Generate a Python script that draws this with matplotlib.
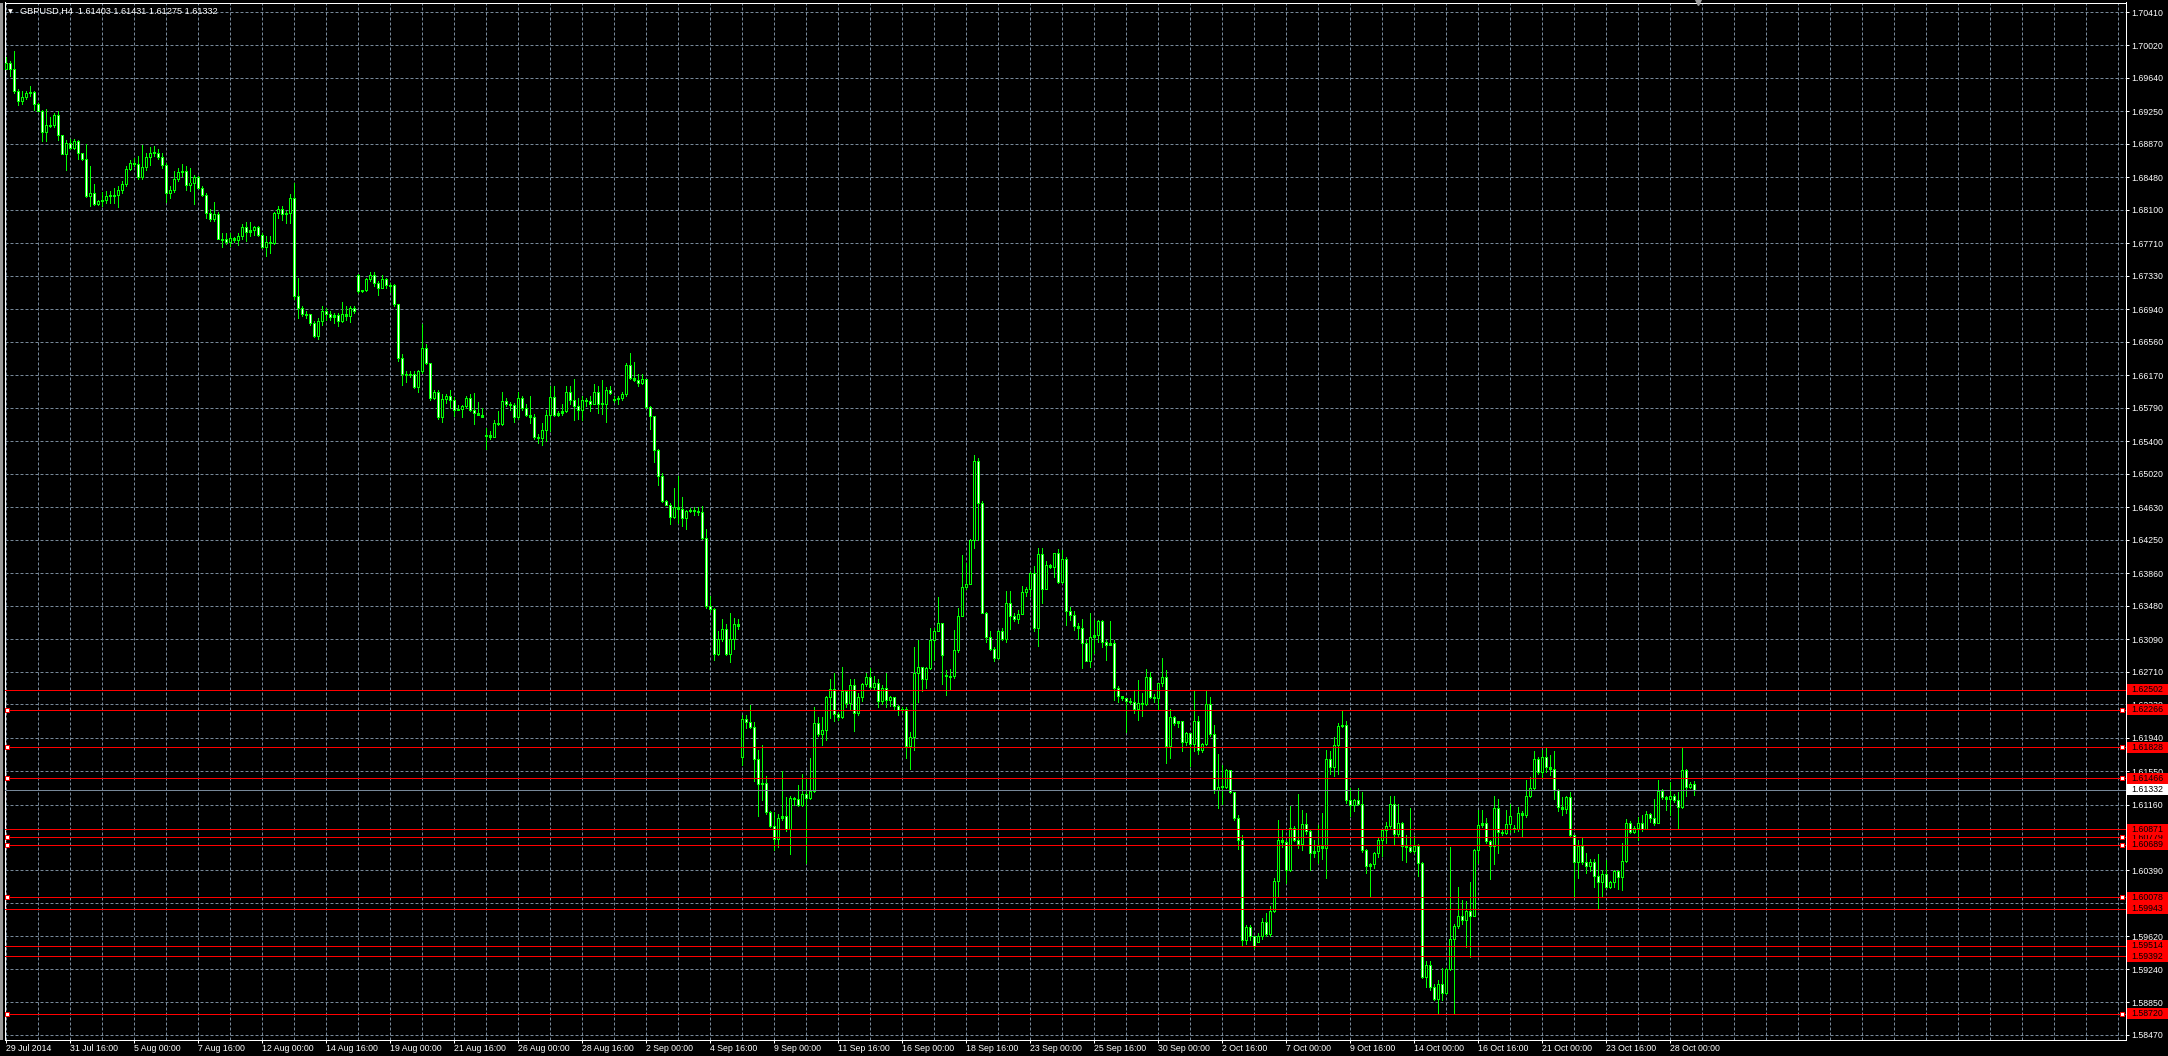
import numpy as np
import matplotlib
matplotlib.use("Agg")
import matplotlib.pyplot as plt
from matplotlib.collections import LineCollection
from matplotlib.patches import Rectangle
import matplotlib.transforms as mtransforms

# ---------------- data (prices in pips, i.e. units of 0.0001) ----------------
symbol = "GBPUSD"
timeframe = "H4"

bar_open = [
    16975,16981,16975,16949,16937,16942,16946,16948,16934,16926,
    16901,16909,16909,16921,16898,16875,16888,16882,16891,16876,
    16870,16826,16830,16817,16820,16822,16826,16827,16827,16833,
    16840,16858,16865,16864,16849,16860,16872,16877,16876,16872,
    16862,16830,16833,16846,16854,16855,16839,16842,16848,16836,
    16827,16806,16799,16805,16776,16776,16772,16777,16775,16780,
    16790,16784,16786,16790,16781,16767,16772,16771,16806,16811,
    16805,16806,16824,16709,16695,16689,16688,16678,16663,16680,
    16692,16689,16685,16687,16680,16689,16686,16696,16734,16715,
    16716,16729,16734,16725,16719,16729,16722,16722,16700,16637,
    16619,16617,16618,16603,16622,16649,16631,16590,16598,16568,
    16589,16593,16588,16576,16578,16581,16590,16576,16573,16571,
    16547,16547,16545,16561,16560,16587,16584,16582,16568,16590,
    16579,16571,16568,16545,16544,16553,16571,16592,16571,16573,
    16575,16597,16588,16581,16577,16588,16587,16583,16598,16584,
    16584,16600,16589,16589,16590,16595,16629,16614,16611,16608,
    16613,16580,16569,16530,16500,16470,16466,16452,16463,16461,
    16450,16459,16459,16459,16457,16427,16348,16344,16292,16309,
    16321,16292,16309,16327,16172,16216,16212,16207,16169,16140,
    16141,16107,16091,16076,16100,16103,16088,16124,16123,16116,
    16128,16124,16132,16211,16198,16203,16241,16251,16222,16218,
    16249,16234,16256,16223,16242,16257,16265,16253,16258,16237,
    16252,16238,16241,16231,16226,16228,16184,16195,16270,16276,
    16263,16275,16308,16319,16328,16267,16266,16266,16296,16336,
    16370,16373,16425,16517,16468,16340,16311,16298,16287,16319,
    16309,16351,16336,16332,16338,16364,16368,16386,16322,16408,
    16367,16396,16393,16409,16376,16403,16342,16337,16324,16322,
    16304,16284,16311,16314,16330,16306,16302,16304,16252,16243,
    16240,16237,16236,16227,16234,16233,16265,16242,16240,16258,
    16265,16184,16218,16211,16213,16189,16200,16187,16213,16180,
    16187,16233,16198,16133,16137,16136,16156,16131,16100,16075,
    15958,15973,15962,15956,15962,15979,15965,15992,16027,16075,
    16072,16040,16089,16075,16070,16093,16085,16059,16062,16068,
    16065,16169,16160,16186,16208,16209,16121,16116,16121,16117,
    16063,16044,16047,16059,16075,16086,16091,16117,16082,16094,
    16068,16067,16062,16068,16048,15915,15929,15903,15889,15907,
    15896,15924,15959,15974,15986,15981,15992,15986,16063,16092,
    16095,16073,16068,16112,16084,16083,16093,16089,16087,16106,
    16104,16126,16135,16169,16154,16171,16160,16157,16133,16113,
    16111,16125,16080,16049,16068,16049,16044,16049,16032,16026,
    16035,16020,16025,16038,16031,16050,16095,16084,16089,16094,
    16088,16105,16100,16095,16132,16125,16122,16126,16121,16113,
    16156,16137,16140.3,
]

bar_high = [
    16988,16984,16995,16951,16949,16949,16955,16949,16935,16927,
    16928,16918,16923,16925,16898,16892,16893,16893,16892,16876,
    16887,16861,16840,16822,16831,16832,16832,16836,16838,16844,
    16861,16868,16871,16873,16886,16876,16883,16885,16881,16876,
    16865,16838,16855,16859,16864,16861,16859,16851,16850,16838,
    16830,16811,16819,16807,16783,16783,16783,16778,16783,16794,
    16796,16796,16791,16791,16783,16779,16779,16807,16814,16814,
    16809,16828,16842,16731,16698,16692,16688,16680,16684,16698,
    16696,16692,16690,16690,16702,16698,16698,16698,16735,16717,
    16731,16737,16737,16727,16734,16730,16725,16723,16700,16642,
    16622,16622,16622,16623,16677,16653,16631,16600,16600,16595,
    16595,16600,16592,16582,16582,16593,16595,16596,16586,16579,
    16555,16552,16565,16575,16597,16591,16586,16585,16597,16593,
    16584,16593,16572,16549,16561,16577,16605,16604,16575,16584,
    16604,16604,16613,16590,16593,16591,16593,16607,16605,16612,
    16603,16604,16593,16593,16597,16631,16643,16633,16618,16618,
    16613,16581,16570,16531,16503,16472,16468,16485,16500,16475,
    16460,16462,16463,16463,16465,16438,16359,16345,16318,16332,
    16327,16339,16334,16332,16221,16220,16232,16212,16180,16185,
    16149,16108,16107,16105,16155,16125,16126,16125,16139,16152,
    16146,16170,16230,16218,16218,16243,16263,16269,16224,16277,
    16250,16263,16263,16246,16258,16270,16275,16266,16263,16255,
    16269,16243,16242,16232,16230,16230,16201,16300,16308,16277,
    16277,16322,16322,16358,16328,16273,16274,16320,16345,16407,
    16398,16426,16524,16520,16470,16341,16319,16300,16320,16322,
    16365,16365,16339,16343,16371,16370,16388,16394,16415,16415,
    16400,16397,16410,16414,16413,16405,16346,16342,16328,16333,
    16308,16340,16331,16331,16331,16308,16330,16308,16254,16243,
    16240,16240,16250,16261,16246,16274,16271,16245,16258,16287,
    16273,16228,16219,16213,16213,16201,16200,16250,16219,16188,
    16248,16242,16209,16175,16162,16158,16156,16131,16104,16081,
    15975,15975,15962,15966,15983,15989,15997,16030,16098,16086,
    16075,16114,16091,16128,16110,16106,16087,16075,16092,16106,
    16180,16178,16195,16211,16226,16213,16135,16123,16135,16131,
    16064,16048,16061,16077,16087,16096,16126,16126,16117,16096,
    16080,16112,16079,16070,16049,15933,15933,15907,15911,15925,
    15925,16067,15977,16020,16004,16003,16026,16064,16110,16110,
    16100,16075,16126,16123,16088,16110,16117,16092,16113,16108,
    16145,16148,16179,16172,16180,16182,16174,16178,16134,16125,
    16126,16131,16080,16075,16077,16059,16053,16052,16058,16040,
    16051,16027,16040,16040,16071,16099,16097,16091,16102,16104,
    16108,16106,16123,16145,16134,16126,16142,16128,16131,16182,
    16157,16142,16143.1,
]

bar_low = [
    16974,16966,16947,16932,16934,16939,16943,16927,16925,16890,
    16890,16907,16907,16892,16875,16857,16881,16881,16870,16868,
    16825,16814,16816,16816,16814,16818,16818,16818,16813,16830,
    16838,16857,16861,16846,16846,16857,16863,16873,16870,16859,
    16819,16824,16831,16844,16850,16833,16832,16817,16835,16826,
    16801,16797,16797,16776,16767,16770,16768,16772,16769,16776,
    16774,16779,16781,16779,16766,16756,16760,16770,16801,16798,
    16795,16795,16706,16684,16686,16684,16676,16662,16659,16676,
    16682,16682,16678,16674,16679,16682,16679,16690,16713,16714,
    16715,16727,16721,16711,16719,16719,16714,16698,16634,16606,
    16609,16615,16602,16597,16620,16630,16588,16589,16566,16562,
    16585,16579,16569,16576,16568,16579,16575,16560,16571,16568,
    16531,16543,16545,16559,16559,16581,16577,16563,16566,16577,
    16569,16561,16543,16538,16536,16540,16552,16570,16570,16571,
    16574,16584,16565,16566,16565,16581,16575,16583,16573,16572,
    16562,16595,16586,16584,16588,16593,16613,16610,16605,16607,
    16579,16554,16516,16489,16469,16466,16443,16450,16445,16441,
    16438,16457,16454,16454,16426,16345,16341,16285,16290,16307,
    16291,16282,16298,16321,16162,16205,16205,16143,16103,16121,
    16105,16090,16063,16066,16098,16085,16058,16116,16114,16114,
    16048,16123,16131,16196,16185,16191,16217,16213,16215,16217,
    16230,16228,16202,16220,16237,16254,16252,16251,16230,16233,
    16230,16231,16226,16220,16224,16170,16158,16180,16236,16248,
    16252,16274,16285,16319,16257,16244,16250,16264,16294,16336,
    16368,16373,16415,16425,16339,16306,16296,16283,16286,16308,
    16306,16321,16330,16328,16338,16359,16359,16318,16301,16351,
    16367,16392,16382,16374,16374,16326,16331,16320,16309,16275,
    16283,16277,16293,16306,16300,16285,16302,16238,16236,16238,
    16201,16233,16223,16215,16219,16232,16240,16236,16226,16254,
    16165,16170,16209,16207,16178,16186,16161,16178,16175,16177,
    16186,16196,16129,16112,16117,16135,16129,16098,16064,15952,
    15953,15958,15949,15955,15959,15962,15963,15990,16009,16067,
    16024,16038,16073,16065,16063,16082,16040,16055,16048,16053,
    16030,16152,16149,16152,16207,16118,16103,16109,16116,16061,
    16036,16009,16042,16055,16056,16071,16089,16069,16079,16051,
    16049,16061,16059,16032,15914,15903,15899,15888,15873,15888,
    15895,15923,15873,15972,15977,15950,15938,15986,16048,16090,
    16071,16029,16047,16059,16080,16082,16084,16084,16085,16079,
    16102,16125,16134,16152,16148,16154,16150,16123,16108,16104,
    16106,16079,16009,16030,16047,16036,16038,16020,15995,16009,
    16019,16019,16020,16017,16016,16049,16083,16083,16075,16085,
    16087,16096,16092,16094,16123,16110,16104,16119,16087,16112,
    16126,16135,16127.5,
]

bar_close = [
    16981,16975,16949,16937,16942,16946,16948,16934,16926,16901,
    16909,16909,16921,16898,16875,16888,16882,16891,16876,16870,
    16826,16830,16817,16820,16822,16826,16827,16827,16833,16840,
    16858,16865,16864,16849,16860,16872,16877,16876,16872,16862,
    16830,16833,16846,16854,16855,16839,16842,16848,16836,16827,
    16806,16799,16805,16776,16776,16772,16777,16775,16780,16790,
    16784,16786,16790,16781,16767,16772,16771,16806,16811,16805,
    16806,16824,16709,16695,16689,16688,16678,16663,16680,16692,
    16689,16685,16687,16680,16689,16686,16696,16692,16715,16716,
    16729,16734,16725,16719,16729,16722,16722,16700,16637,16619,
    16617,16618,16603,16622,16649,16631,16590,16598,16568,16589,
    16593,16588,16576,16578,16581,16590,16576,16573,16571,16568,
    16547,16545,16561,16560,16587,16584,16582,16568,16590,16579,
    16571,16568,16545,16544,16553,16571,16592,16571,16573,16575,
    16597,16588,16581,16577,16588,16587,16583,16598,16584,16584,
    16600,16596,16589,16590,16595,16629,16614,16611,16608,16613,
    16580,16569,16530,16500,16470,16466,16452,16463,16461,16450,
    16459,16459,16459,16457,16427,16348,16344,16292,16309,16321,
    16292,16309,16327,16324,16216,16212,16207,16169,16140,16141,
    16107,16091,16076,16100,16103,16088,16124,16123,16116,16128,
    16124,16132,16211,16198,16203,16241,16251,16222,16218,16249,
    16234,16256,16223,16242,16257,16265,16253,16258,16237,16252,
    16238,16241,16231,16226,16228,16184,16195,16270,16276,16263,
    16275,16308,16319,16328,16291,16266,16266,16296,16336,16370,
    16373,16425,16517,16468,16340,16311,16298,16287,16319,16309,
    16351,16336,16332,16338,16364,16368,16386,16322,16408,16367,
    16396,16393,16409,16376,16403,16342,16337,16324,16322,16304,
    16284,16311,16314,16330,16306,16302,16304,16252,16243,16240,
    16237,16236,16227,16234,16233,16265,16242,16240,16258,16265,
    16184,16218,16211,16213,16189,16200,16187,16213,16180,16187,
    16233,16198,16133,16137,16136,16156,16131,16100,16075,15958,
    15973,15962,15951,15962,15979,15965,15992,16027,16075,16072,
    16040,16089,16075,16070,16093,16085,16059,16062,16068,16065,
    16169,16160,16186,16208,16209,16121,16116,16121,16117,16063,
    16044,16047,16059,16075,16086,16091,16117,16082,16094,16068,
    16067,16062,16068,16048,15915,15929,15903,15889,15907,15896,
    15924,15959,15974,15986,15981,15992,15986,16063,16092,16095,
    16073,16068,16112,16084,16083,16093,16103,16087,16106,16104,
    16126,16135,16169,16154,16171,16160,16157,16133,16113,16111,
    16125,16080,16049,16068,16049,16044,16049,16032,16026,16035,
    16020,16025,16038,16031,16050,16095,16084,16089,16094,16088,
    16105,16100,16095,16132,16125,16122,16126,16121,16113,16156,
    16137,16140,16133.2,
]

time_labels = ["29 Jul 2014", "31 Jul 16:00", "5 Aug 00:00", "7 Aug 16:00",
               "12 Aug 00:00", "14 Aug 16:00", "19 Aug 00:00", "21 Aug 16:00",
               "26 Aug 00:00", "28 Aug 16:00", "2 Sep 00:00", "4 Sep 16:00",
               "9 Sep 00:00", "11 Sep 16:00", "16 Sep 00:00", "18 Sep 16:00",
               "23 Sep 00:00", "25 Sep 16:00", "30 Sep 00:00", "2 Oct 16:00",
               "7 Oct 00:00", "9 Oct 16:00", "14 Oct 00:00", "16 Oct 16:00",
               "21 Oct 00:00", "23 Oct 16:00", "28 Oct 00:00"]
bars_per_label = 16

price_ticks = [1.70410, 1.70020, 1.69640, 1.69250, 1.68870, 1.68480, 1.68100,
               1.67710, 1.67330, 1.66940, 1.66560, 1.66170, 1.65790, 1.65400,
               1.65020, 1.64630, 1.64250, 1.63860, 1.63480, 1.63090, 1.62710,
               1.62330, 1.61940, 1.61550, 1.61160, 1.60780, 1.60390, 1.60010,
               1.59620, 1.59240, 1.58850, 1.58470]

# horizontal line objects (drawing order); True = selected (anchor squares shown)
level_prices = [1.62502, 1.62266, 1.61828, 1.61466, 1.60779, 1.60871, 1.60689,
                1.60078, 1.59943, 1.59514, 1.59392, 1.58720]
level_selected = [False, True, True, True, True, False, True,
                  True, False, False, False, True]

# ---------------- style ----------------
plt.rcParams['lines.scale_dashes'] = False
plt.rcParams['font.family'] = ['Liberation Sans', 'DejaVu Sans']

W, H, DPI = 2168, 1056, 100
AX_L, AX_R, AX_T, AX_B = 4.5, 2125.5, 2.5, 1039.5     # plot frame in pixels
BAR_PX, FIRST_BAR_PX = 4.0, 5.5                       # candle pitch
TOP_TICK_PX, BOT_TICK_PX = 12.0, 1035.0               # pixel rows of outer grid labels
FS = 6.3
LIME = '#00FF00'
GRID = '#778899'
DASH = (0, (2.16, 1.44))
PX_PT = 72.0 / DPI

n = min(len(bar_open), len(bar_high), len(bar_low), len(bar_close))
o = np.array(bar_open[:n]) / 1e4
h = np.array(bar_high[:n]) / 1e4
l = np.array(bar_low[:n]) / 1e4
c = np.array(bar_close[:n]) / 1e4
h = np.maximum(h, np.maximum(o, c))
l = np.minimum(l, np.minimum(o, c))
idx = np.arange(n)

PPX = (price_ticks[0] - price_ticks[-1]) / (BOT_TICK_PX - TOP_TICK_PX)  # price per pixel

fig = plt.figure(figsize=(W / DPI, H / DPI), dpi=DPI, facecolor='black')
ax = fig.add_axes([AX_L / W, 1 - AX_B / H, (AX_R - AX_L) / W, (AX_B - AX_T) / H])
ax.set_facecolor('black')
ax.set_xlim((AX_L - FIRST_BAR_PX) / BAR_PX, (AX_R - FIRST_BAR_PX) / BAR_PX)
ax.set_ylim(price_ticks[0] - (AX_B - TOP_TICK_PX) * PPX,
            price_ticks[0] + (TOP_TICK_PX - AX_T) * PPX)

for s in ax.spines.values():
    s.set_color('white')
    s.set_linewidth(PX_PT)

# ticks / grid
ax.set_yticks(price_ticks)
ax.set_yticklabels([f"{t:.5f}" for t in price_ticks])
major_x = [k * bars_per_label for k in range(len(time_labels))]
ax.set_xticks(major_x)
ax.set_xticklabels(time_labels)
xmax = ax.get_xlim()[1]
minor_x = [m for m in range(0, int(xmax) + 1, bars_per_label // 2) if m not in major_x]
ax.set_xticks(minor_x, minor=True)

ax.yaxis.tick_right()
ax.tick_params(axis='y', which='major', direction='out', length=2.3, width=PX_PT,
               colors='white', labelsize=FS, pad=2.0, right=True, left=False,
               labelright=True, labelleft=False)
ax.tick_params(axis='x', which='major', direction='out', length=2.3, width=PX_PT,
               colors='white', labelsize=FS, pad=0.6)
ax.tick_params(axis='x', which='minor', length=0)
for lbl in ax.get_xticklabels():
    lbl.set_ha('left')

ax.set_axisbelow(True)
ax.grid(True, which='both', axis='x', color=GRID, lw=PX_PT, linestyle=DASH)
ax.grid(True, which='major', axis='y', color=GRID, lw=PX_PT, linestyle=DASH)

# candles
wick_segs = np.stack([np.column_stack([idx, l]), np.column_stack([idx, h])], axis=1)
ax.add_collection(LineCollection(wick_segs, colors=LIME, linewidths=PX_PT,
                                 antialiaseds=False, zorder=3))
lo = np.minimum(o, c)
hi = np.maximum(o, c)
mid = (lo + hi) / 2
thin = (hi - lo) < PPX
lo = np.where(thin, mid - 0.5 * PPX, lo)
hi = np.where(thin, mid + 0.5 * PPX, hi)
body_segs = np.stack([np.column_stack([idx, lo]), np.column_stack([idx, hi])], axis=1)
bodies = LineCollection(body_segs, colors=LIME, linewidths=3 * PX_PT,
                        antialiaseds=False, zorder=4)
bodies.set_capstyle('butt')
ax.add_collection(bodies)
big = (hi - lo) > 2 * PPX
inner_segs = np.stack([np.column_stack([idx, lo + PPX]),
                       np.column_stack([idx, hi - PPX])], axis=1)[big]
inner_cols = np.where(c < o, 'white', 'black')[big]
inner = LineCollection(inner_segs, colors=list(inner_cols), linewidths=PX_PT,
                       antialiaseds=False, zorder=5)
inner.set_capstyle('butt')
ax.add_collection(inner)

# bid line
bid = c[-1]
ax.axhline(bid, color=GRID, lw=PX_PT, zorder=6)

# horizontal line objects
x0, x1 = ax.get_xlim()
sq_left = x0 + 2.7 / BAR_PX
sq_right = x1 - 3.5 / BAR_PX
for p, sel in zip(level_prices, level_selected):
    ax.axhline(p, color='red', lw=PX_PT, zorder=7)
    if sel:
        ax.plot([sq_left, sq_right], [p, p], linestyle='none', marker='s',
                ms=3.2, mfc='white', mec='red', mew=PX_PT, zorder=8, clip_on=False)

# price labels at right edge
blend = mtransforms.blended_transform_factory(fig.transFigure, ax.transData)
BOX_X = 2127.0
BOX_H = 11.0
TXT_X = 2131.5


def price_box(p, face, z):
    fig.add_artist(Rectangle((BOX_X / W, p - BOX_H / 2 * PPX), (W - BOX_X) / W,
                             BOX_H * PPX, transform=blend, facecolor=face,
                             edgecolor='none', zorder=z, clip_on=False))
    fig.text(TXT_X / W, p, f"{p:.5f}", transform=blend, ha='left', va='center',
             color='black', fontsize=FS, zorder=z + 0.5, clip_on=False)


for k, p in enumerate(level_prices):
    price_box(p, 'red', 10 + k)
price_box(bid, 'white', 40)

# title
fig.text(8.0 / W, 1 - 12.0 / H, "\u25BC", color='white', fontsize=4.5,
         family='DejaVu Sans', ha='left', va='center')
title = f"{symbol},{timeframe}  {o[-1]:.5f} {h[-1]:.5f} {l[-1]:.5f} {c[-1]:.5f}"
fig.text(20.5 / W, 1 - 11.5 / H, title, color='white', fontsize=6.6,
         ha='left', va='center')

# chart-shift marker at the top of the frame
ax.plot([n], [ax.get_ylim()[1]], marker='v', color='#a0a0a0', ms=4.5,
        linestyle='none', clip_on=False, zorder=9)

# window edge strip on the far left
fig.add_artist(Rectangle((0, 1 - AX_B / H), 3.0 / W, (AX_B - AX_T) / H,
                         transform=fig.transFigure, facecolor='#9a9a9a',
                         edgecolor='none'))

fig.savefig("out.png", dpi=DPI, facecolor='black')
print(n, len(bar_open), len(bar_high), len(bar_low), len(bar_close))
